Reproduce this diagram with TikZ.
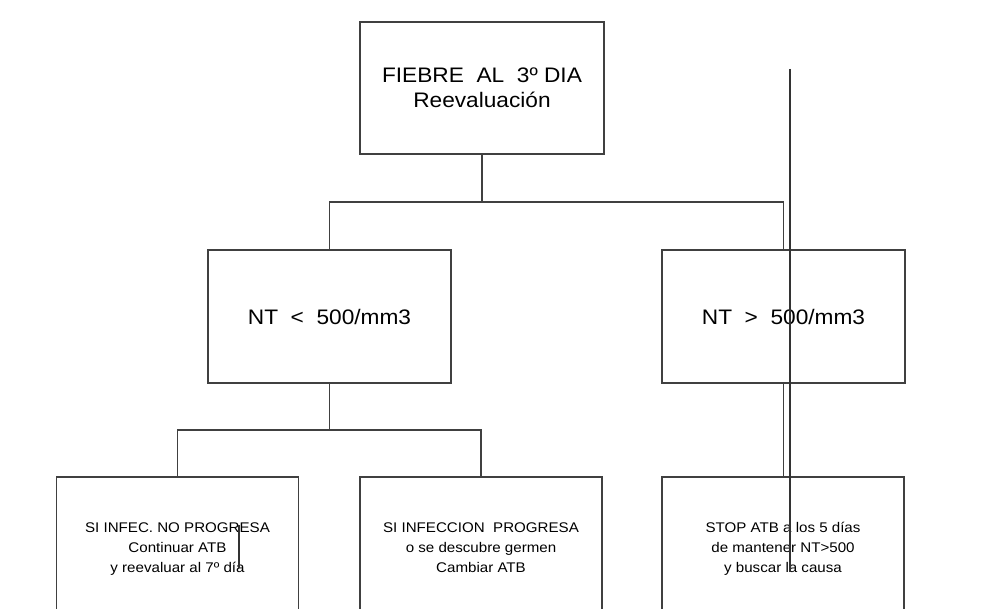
\documentclass[tikz,border=0pt]{standalone}
\usepackage{fontspec}
\setmainfont{Liberation Sans}[FakeStretch=1.08]
\begin{document}
\begin{tikzpicture}[x=1pt,y=-1pt,
  box/.style={draw=black!75, line width=1.1pt, rectangle, inner sep=0pt, outer sep=0pt, align=center, text=black},
  topbox/.style={box, minimum width=244pt, minimum height=132pt, font=\fontsize{21}{25}\selectfont},
  midbox/.style={box, minimum width=243pt, minimum height=133pt, font=\fontsize{21}{25}\selectfont},
  botbox/.style={box, minimum width=242pt, minimum height=142pt, font=\fontsize{14}{20}\selectfont},
  link/.style={draw=black!75, line width=1.1pt},
  stray/.style={draw=black!80, line width=1.2pt}]
\useasboundingbox[fill=white] (0,0) rectangle (981,609);

\node[topbox] (top) at (482,88) {FIEBRE\ \ AL\ \ 3º DIA\\Reevaluación};
\node[midbox] (lmid) at (329.5,316.5) {NT\ \ <\ \ 500/mm3};
\node[midbox] (rmid) at (783.5,316.5) {NT\ \ >\ \ 500/mm3};
\node[botbox] (b1) at (177.5,548) {\strut SI INFEC. NO PROGRESA\\\strut Continuar ATB\\\strut y reevaluar al 7º día};
\node[botbox] (b2) at (481,548) {\strut SI INFECCION\ \ PROGRESA\\\strut o se descubre germen\\\strut Cambiar ATB};
\node[botbox] (b3) at (783,548) {\strut STOP ATB a los 5 días\\\strut de mantener NT>500\\\strut y buscar la causa};

\path[link] (top.south) -- ++(0,48) coordinate (j1);
\path[link] (lmid.north) |- (j1) -| (rmid.north);
\path[link] (lmid.south) -- ++(0,47) coordinate (j2);
\path[link] (b1.north) |- (j2) -| (b2.north);
\path[link] (rmid.south) -- (rmid.south |- b3.north);

\coordinate (s1) at (790,69);
\coordinate (s2) at (790,572);
\path[stray] (s1) -- (s2);
\coordinate (s3) at (239,525);
\coordinate (s4) at (239,568);
\path[stray] (s3) -- (s4);
\end{tikzpicture}
\end{document}
